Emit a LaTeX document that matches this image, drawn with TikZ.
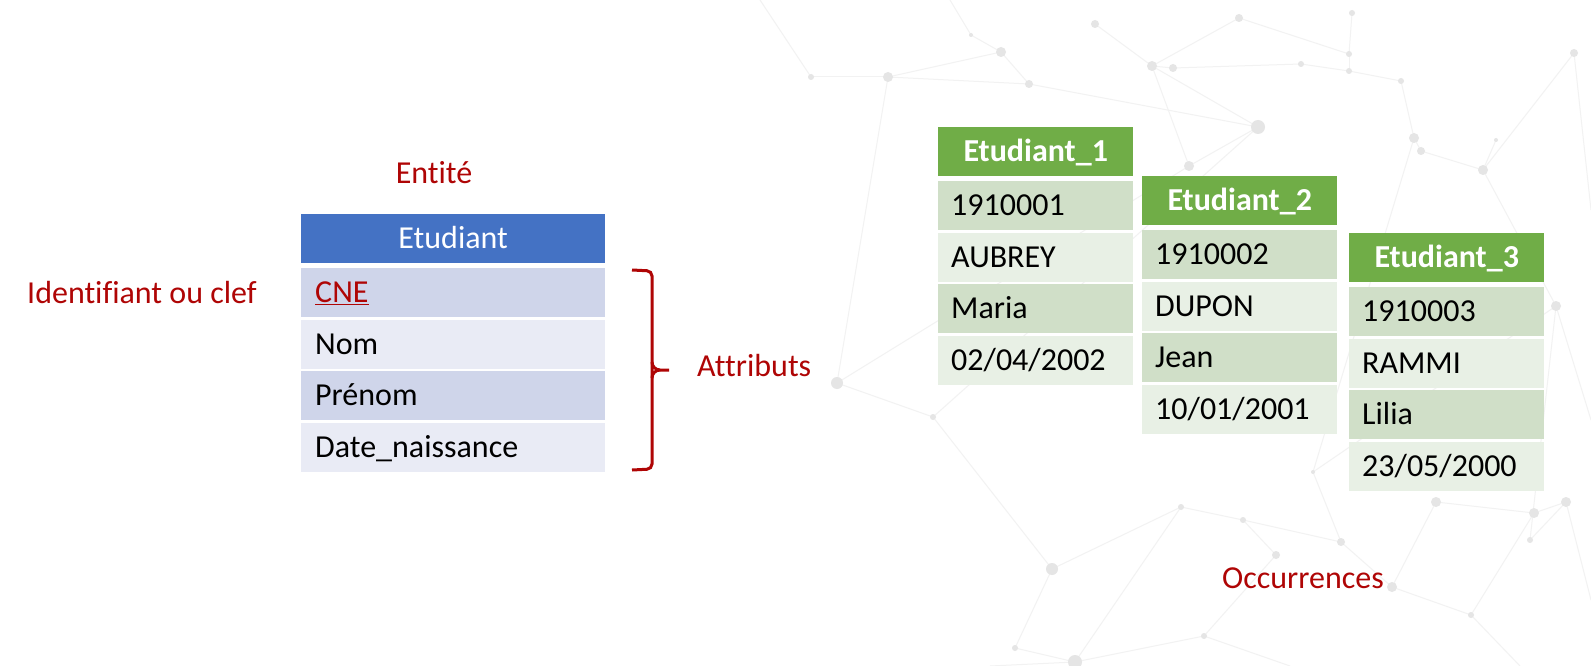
\documentclass[tikz,border=0pt]{standalone}
\usepackage{fontspec}
\setmainfont{Carlito}[RawFeature={-liga;-clig;-calt;-dlig}]
\usetikzlibrary{positioning}
\definecolor{rouge}{RGB}{175, 5, 5}
\definecolor{bleu}{RGB}{68, 114, 196}
\definecolor{bleufonce}{RGB}{207, 213, 234}
\definecolor{bleuclair}{RGB}{233, 235, 245}
\definecolor{vert}{RGB}{112, 173, 71}
\definecolor{vertfonce}{RGB}{208, 223, 200}
\definecolor{vertclair}{RGB}{232, 240, 229}
\definecolor{reseau}{RGB}{242, 242, 242}
\definecolor{noeud}{RGB}{229, 229, 229}

\tikzset{
  texte/.style={font=\fontsize{32}{38}\selectfont},
  etiquette/.style={texte, text=rouge, anchor=base west, inner sep=0pt},
  cellule/.style={texte, anchor=north west, inner xsep=14pt, inner ysep=14.5pt,
    text height=20pt, text depth=0pt, align=left},
  entete/.style={cellule, align=center, text=white},
  accolade/.style={rouge, line width=3pt}
}

% points of the background network
\def\pointsreseau{n1/811/77/3, n2/888/77/5, n3/1001/52/5, n4/1029/84/4,
  n5/1095/24/4, n6/1152/66/5, n7/1173/68/4, n8/1239/18/4, n9/1301/64/3,
  n10/1352/13/3, n11/1349/54/3, n12/1349/71/3, n13/1401/81/3, n14/1574/53/4,
  n15/1258/127/7, n16/971/35/2, n17/1189/166/5, n18/1414/138/5, n19/1421/151/4,
  n20/1483/170/5, n21/1496/140/2, n22/1556/306/5, n23/837/383/6, n24/933/417/3,
  n25/1052/569/6, n26/1181/507/3, n27/1243/520/3, n28/1341/542/4, n29/1276/555/4,
  n30/1392/587/5, n31/1436/502/5, n32/1534/513/5, n33/1566/502/5, n34/1530/540/3,
  n35/1075/662/7, n36/1015/648/3, n37/1204/636/3, n38/1471/615/3, n39/1313/472/2}

\begin{document}
\begin{tikzpicture}[x=1pt, y=-1pt]
  \useasboundingbox (0, 0) rectangle (1591, 666);
  \fill[white] (0, 0) rectangle (1591, 666);

  % background network
  \foreach \nom/\x/\y/\r in \pointsreseau {
    \coordinate (\nom) at (\x, \y);
  }
  \coordinate (b1) at (950, 0);
  \coordinate (b2) at (1591, 210);
  \coordinate (b3) at (1591, 420);
  \coordinate (b4) at (1591, 600);
  \coordinate (b5) at (990, 666);
  \coordinate (b6) at (1520, 666);
  \coordinate (b7) at (760, 0);
  \coordinate (b8) at (1290, 666);
  \foreach \a/\b in {n1/n2, n2/n3, n2/n4, n3/n4, n3/n16, n16/b1, n4/n15, n5/n6,
    n6/n7, n6/n8, n6/n15, n7/n9, n8/n11, n9/n12, n11/n12, n12/n13, n13/n18,
    n10/n11, n15/n17, n17/n6, n18/n19, n19/n20, n20/n21, n20/n22, n14/n20,
    n14/b2, n23/n2, n23/n24, n23/n17, n24/n25, n25/n36, n36/n35, n35/n26,
    n26/n27, n27/n29, n27/n28, n28/n30, n29/n37, n30/n31, n31/n32, n32/n33,
    n33/n34, n34/n22, n30/n38, n38/n32, n37/n35, n28/n39, n39/n22, n25/n26,
    n22/b3, n33/b4, n35/b5, n38/b6, n1/b7, n37/b8, n24/n15, n39/n18} {
    \draw[reseau, line width=1pt] (\a) -- (\b);
  }
  \foreach \nom/\x/\y/\r in \pointsreseau {
    \fill[noeud] (\nom) circle (\r pt);
  }

  % entity
  \node[entete, fill=bleu, text width=276pt] (ent) at (301, 214) {Etudiant};
  \foreach [count=\k] \v/\c in {{\textcolor{rouge}{\underline{CNE}}}/bleufonce,
    Nom/bleuclair, Prénom/bleufonce, Date\_naissance/bleuclair} {
    \pgfmathsetmacro{\y}{268 + 51.5 * (\k - 1)}
    \node[cellule, fill=\c, text width=276pt] (ent-\k) at (301, \y) {\v};
  }

  \node[etiquette, anchor=base] (entite) at (434, 183) {Entité};
  \node[etiquette] (clef) at (27, 303) {Identifiant ou clef};
  \node[etiquette] (attributs) at (697, 376) {Attributs};

  \draw[accolade, rounded corners=5pt] (632, 270) -- (652, 271) -- (652, 469) -- (632, 470);
  \draw[accolade] (652, 362) to[out=-90, in=180] (660, 370) -- (669, 370);
  \draw[accolade] (652, 378) to[out=90, in=180] (660, 370);

  % occurrences
  \foreach \t/\x/\y/\a/\b/\c/\d in {1/938/127/1910001/AUBREY/Maria/{02/04/2002},
    2/1142/176/1910002/DUPON/Jean/{10/01/2001},
    3/1349/233/1910003/RAMMI/Lilia/{23/05/2000}} {
    \node[entete, fill=vert, text width=169pt, inner xsep=13pt, font=\fontsize{32}{38}\selectfont\bfseries]
      (occ\t) at (\x, \y) {Etudiant\_\t};
    \foreach [count=\k] \v in {\a, \b, \c, \d} {
      \ifodd\k \def\fond{vertfonce}\else\def\fond{vertclair}\fi
      \pgfmathsetmacro{\yy}{\y + 54 + 51.5 * (\k - 1)}
      \node[cellule, fill=\fond, text width=169pt, inner xsep=13pt] (occ\t-\k) at (\x, \yy) {\v};
    }
  }

  \node[etiquette, anchor=base] (occurrences) at (1303, 588) {Occurrences};
\end{tikzpicture}
\end{document}
